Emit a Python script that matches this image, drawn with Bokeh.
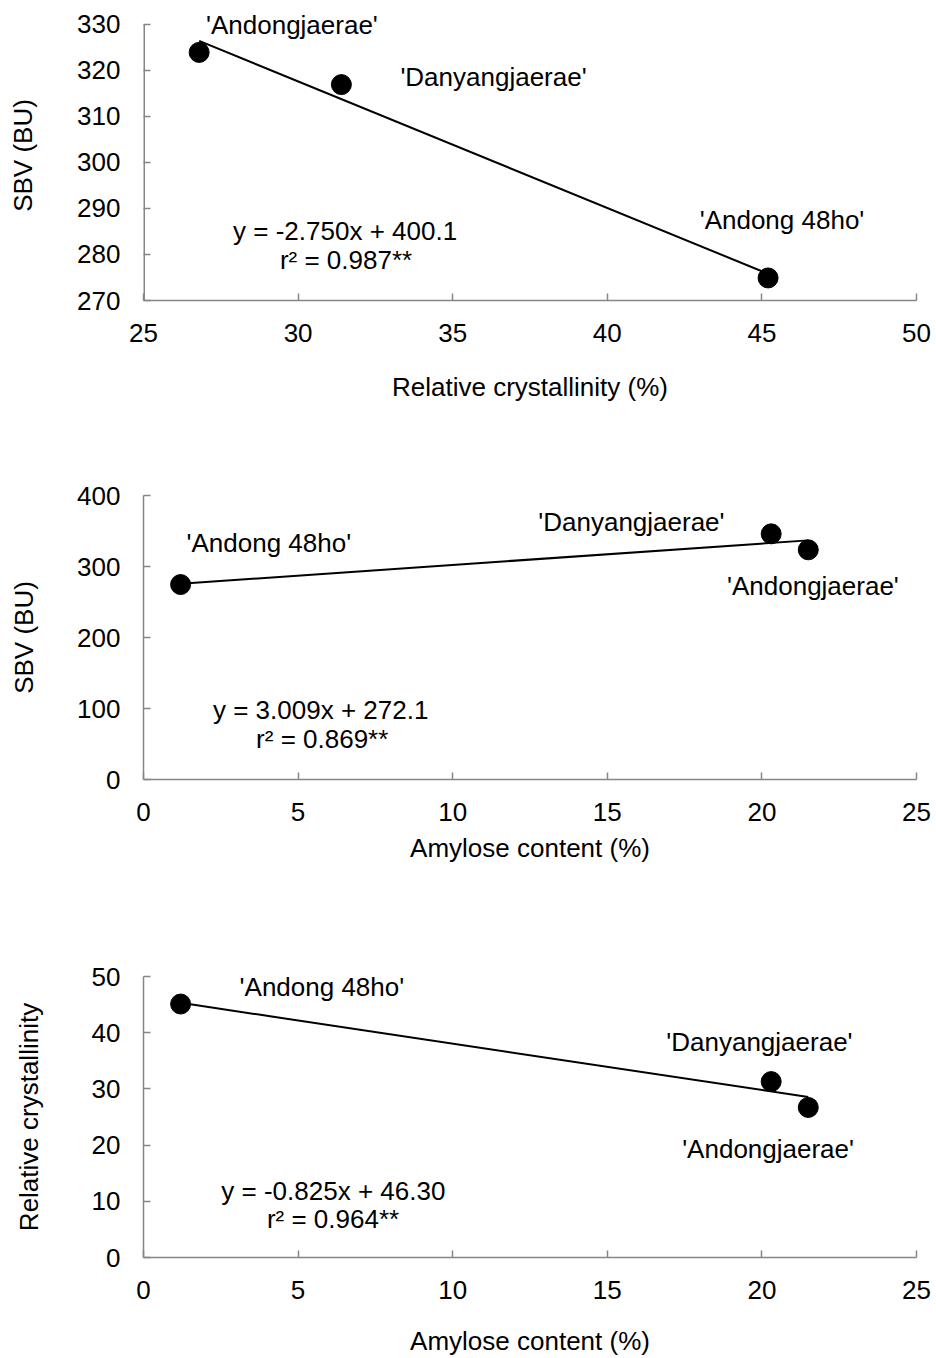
from bokeh.plotting import figure
from bokeh.layouts import column
from bokeh.models import FixedTicker, ColumnDataSource, LabelSet
from bokeh.core.properties import value
from bokeh.embed import file_html
from bokeh.resources import INLINE

# ---------------- data ----------------
# Panel 1: relative crystallinity vs SBV
rc_x1 = [26.8, 31.4, 45.2]
sbv_y1 = [323.9, 316.9, 274.9]
fit1 = (-2.750, 400.1)
eq1 = ["y = -2.750x + 400.1", "r² = 0.987**"]
lab1 = ["'Andongjaerae'", "'Danyangjaerae'", "'Andong 48ho'"]

# Panel 2: amylose content vs SBV
am_x2 = [21.5, 20.3, 1.2]
sbv_y2 = [323.5, 346.0, 274.6]
fit2 = (3.009, 272.1)
eq2 = ["y = 3.009x + 272.1", "r² = 0.869**"]
lab2 = ["'Andongjaerae'", "'Danyangjaerae'", "'Andong  48ho'"]

# Panel 3: amylose content vs relative crystallinity
am_x3 = [21.5, 20.3, 1.2]
rc_y3 = [26.7, 31.3, 45.1]
fit3 = (-0.825, 46.30)
eq3 = ["y = -0.825x + 46.30", "r² = 0.964**"]
lab3 = ["'Andongjaerae'", "'Danyangjaerae'", "'Andong 48ho'"]

FONT = "Liberation Sans"
FS = "26px"
AXIS_COLOR = "#868686"


def make_panel(xs, ys, fit, eq, labels, label_pos, eq_pos, x_range, y_range,
               x_ticks, y_ticks, x_label, y_label, width, height, borders,
               x_label_standoff, y_label_standoff, y_axis_top=None):
    p = figure(width=width, height=height, x_range=x_range, y_range=y_range,
               output_backend="svg", toolbar_location=None,
               min_border_left=borders[0], min_border_right=borders[1],
               min_border_top=borders[2], min_border_bottom=borders[3])
    p.outline_line_color = None
    p.xgrid.visible = False
    p.ygrid.visible = False
    p.background_fill_color = "white"
    p.border_fill_color = "white"

    for ax in (p.xaxis[0], p.yaxis[0]):
        ax.axis_line_color = AXIS_COLOR
        ax.axis_line_width = 1.5
        ax.major_tick_line_color = AXIS_COLOR
        ax.major_tick_line_width = 1.5
        ax.major_tick_in = 7
        ax.major_tick_out = 0
        ax.minor_tick_line_color = None
        ax.major_label_text_font = FONT
        ax.major_label_text_font_size = FS
        ax.major_label_text_color = "black"
        ax.major_label_standoff = 23
        ax.axis_label_text_font = FONT
        ax.axis_label_text_font_size = FS
        ax.axis_label_text_font_style = "normal"
        ax.axis_label_text_color = "black"
    p.xaxis[0].ticker = FixedTicker(ticks=x_ticks)
    p.yaxis[0].ticker = FixedTicker(ticks=y_ticks)
    p.xaxis[0].axis_label = x_label
    p.yaxis[0].axis_label = y_label
    p.xaxis[0].axis_label_standoff = x_label_standoff
    p.yaxis[0].axis_label_standoff = y_label_standoff

    if y_axis_top is not None:
        # axis line stops at the top tick, room above it for a label
        p.yaxis[0].axis_line_color = None
        p.segment(x0=[x_range[0]], y0=[y_range[0]], x1=[x_range[0]], y1=[y_axis_top],
                  line_color=AXIS_COLOR, line_width=3)

    # trend line across the data range
    x0, x1 = min(xs), max(xs)
    m, b = fit
    p.line([x0, x1], [m * x0 + b, m * x1 + b], line_color="black", line_width=2)

    p.scatter(xs, ys, size=20, marker="circle", fill_color="black", line_color="black")

    src = ColumnDataSource(dict(x=[q[0] for q in label_pos], y=[q[1] for q in label_pos], t=labels))
    p.add_layout(LabelSet(x="x", y="y", text="t", source=src, text_align="center",
                          text_baseline="middle", text_font=value(FONT), text_font_size=value(FS),
                          text_color="black"))
    src2 = ColumnDataSource(dict(x=[q[0] for q in eq_pos], y=[q[1] for q in eq_pos], t=eq))
    p.add_layout(LabelSet(x="x", y="y", text="t", source=src2, text_align="center",
                          text_baseline="middle", text_font=value(FONT), text_font_size=value(FS),
                          text_color="black"))
    return p


W = 936
p1 = make_panel(rc_x1, sbv_y1, fit1, eq1, lab1,
                [(29.8, 329.8), (36.32, 318.5), (45.65, 287.4)],
                [(31.52, 285.2), (31.55, 278.7)],
                (25, 50), (270, 333), [25, 30, 35, 40, 45, 50], [270, 280, 290, 300, 310, 320, 330],
                "Relative crystallinity (%)", "SBV (BU)",
                W, 440, (143, 20, 10, 140), 27, 36, y_axis_top=330)

p2 = make_panel(am_x2, sbv_y2, fit2, eq2, lab2,
                [(21.65, 273.2), (15.78, 362.4), (4.17, 332.4)],
                [(5.73, 97.2), (5.78, 57.3)],
                (0, 25), (0, 400), [0, 5, 10, 15, 20, 25], [0, 100, 200, 300, 400],
                "Amylose content (%)", "SBV (BU)",
                W, 480, (143, 20, 55, 141), 9, 35)

p3 = make_panel(am_x3, rc_y3, fit3, eq3, lab3,
                [(20.2, 19.3), (19.92, 38.3), (5.77, 48.1)],
                [(6.14, 11.9), (6.13, 6.9)],
                (0, 25), (0, 50), [0, 5, 10, 15, 20, 25], [0, 10, 20, 30, 40, 50],
                "Amylose content (%)", "Relative crystallinity",
                W, 438, (143, 20, 56, 101), 24, 45)

layout = column(p1, p2, p3, spacing=0)
open("out.html", "w").write(file_html(layout, INLINE))
